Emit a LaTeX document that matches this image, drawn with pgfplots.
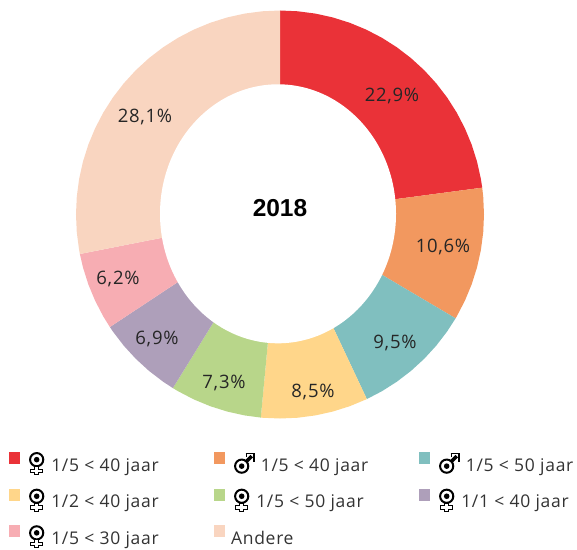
\documentclass[border=0pt]{standalone}
\usepackage{fontspec}
\setmainfont{Open Sans}
\newfontfamily\lf[LetterSpace=4]{Open Sans}
\newfontfamily\arialb{Liberation Sans}
\usepackage{pgfplots}
\usepgfplotslibrary{polar}
\pgfplotsset{compat=1.18}
\definecolor{c1}{HTML}{EA3238}
\definecolor{c2}{HTML}{F2985F}
\definecolor{c3}{HTML}{80BFBF}
\definecolor{c4}{HTML}{FFD68A}
\definecolor{c5}{HTML}{B8D68A}
\definecolor{c6}{HTML}{AE9FBA}
\definecolor{c7}{HTML}{F7ADB3}
\definecolor{c8}{HTML}{F9D5C0}
\newcommand\fem{\hspace{9pt}\begin{tikzpicture}[baseline=-10pt,x=1pt,y=1pt]
\draw[line width=2pt,black] (0,1.5) circle (6.6);
\fill[black] (0,1.5) circle (2.8);
\fill[black] (-2.8,-5.2) rectangle (2.8,-14);
\fill[black] (-6.4,-7.4) rectangle (6.4,-12);
\fill[white] (-1.2,-5.8) rectangle (1.2,-12.8);
\fill[white] (-5.2,-8.6) rectangle (5.2,-10.8);
\end{tikzpicture}\hspace{7pt}}
\newcommand\mal{\hspace{9pt}\begin{tikzpicture}[baseline=-8pt,x=1pt,y=1pt]
\draw[line width=2pt,black] (7,-3) circle (6.6);
\fill[black] (7,-3) circle (2.8);
\draw[line width=3.6pt,black] (11,1) -- (17,7);
\draw[line width=1.4pt,black] (11,9.5) -- (19.5,9.5) -- (19.5,1);
\draw[line width=1.4pt,black] (12,6) -- (12,9.5);
\end{tikzpicture}\hspace{6pt}}
\newcommand\lt[1]{\makebox[186pt][l]{\lf\fontsize{17.5pt}{18pt}\selectfont\color{black!80} #1}}
\begin{document}
\begin{tikzpicture}[x=1pt,y=1pt]
\path[use as bounding box] (0,0) rectangle (577,549);
\begin{polaraxis}[
  at={(280pt,334.5pt)}, anchor=center,
  scale only axis, width=408pt, height=408pt,
  xmin=0, xmax=360, ymin=0, ymax=204,
  hide axis, clip=false,
  legend columns=3,
  legend cell align=left,
  legend image code/.code={\fill[#1] (0pt,7pt) rectangle (11pt,19pt);},
  legend style={
    at={(axis description cs:-0.164,-0.0822)}, anchor=north west, draw=none, fill=none,
    inner sep=0pt, outer sep=0pt,
    row sep=16pt,
    nodes={inner sep=0pt, outer sep=0pt, anchor=base west},
    /tikz/every even column/.append style={column sep=8pt},
  },
]
\addplot[fill=c1,draw=none] coordinates {(90,204)(85,204)(80,204)(75,204)(70,204)(65,204)(60,204)(55,204)(50,204)(45,204)(40,204)(35,204)(30,204)(25,204)(20,204)(15,204)(10,204)(7.56,204)(7.56,100)(90,100)} -- cycle;
\addlegendentry{\lt{\fem 1/5 < 40 jaar}}
\addplot[fill=c2,draw=none] coordinates {(7.56,204)(5,204)(0,204)(-5,204)(-10,204)(-15,204)(-20,204)(-25,204)(-30,204)(-30.6,204)(-30.6,100)(7.56,100)} -- cycle;
\addlegendentry{\lt{\mal 1/5 < 40 jaar}}
\addplot[fill=c3,draw=none] coordinates {(-30.6,204)(-35,204)(-40,204)(-45,204)(-50,204)(-55,204)(-60,204)(-64.8,204)(-64.8,100)(-30.6,100)} -- cycle;
\addlegendentry{\lt{\mal 1/5 < 50 jaar}}
\addplot[fill=c4,draw=none] coordinates {(-64.8,204)(-70,204)(-75,204)(-80,204)(-85,204)(-90,204)(-95,204)(-95.4,204)(-95.4,100)(-64.8,100)} -- cycle;
\addlegendentry{\lt{\fem 1/2 < 40 jaar}}
\addplot[fill=c5,draw=none] coordinates {(-95.4,204)(-100,204)(-105,204)(-110,204)(-115,204)(-120,204)(-121.68,204)(-121.68,100)(-95.4,100)} -- cycle;
\addlegendentry{\lt{\fem 1/5 < 50 jaar}}
\addplot[fill=c6,draw=none] coordinates {(-121.68,204)(-125,204)(-130,204)(-135,204)(-140,204)(-145,204)(-146.52,204)(-146.52,100)(-121.68,100)} -- cycle;
\addlegendentry{\lt{\fem 1/1 < 40 jaar}}
\addplot[fill=c7,draw=none] coordinates {(-146.52,204)(-150,204)(-155,204)(-160,204)(-165,204)(-168.84,204)(-168.84,100)(-146.52,100)} -- cycle;
\addlegendentry{\lt{\fem 1/5 < 30 jaar}}
\addplot[fill=c8,draw=none] coordinates {(-168.84,204)(-170,204)(-175,204)(-180,204)(-185,204)(-190,204)(-195,204)(-200,204)(-205,204)(-210,204)(-215,204)(-220,204)(-225,204)(-230,204)(-235,204)(-240,204)(-245,204)(-250,204)(-255,204)(-260,204)(-265,204)(-270,204)(-270,100)(-168.84,100)} -- cycle;
\addlegendentry{\lt{\hspace{6pt}Andere}}
\end{polaraxis}
\fill[white] (278,335.2) ellipse [x radius=118, y radius=129.5];
\tikzset{lab/.style={font=\lf\fontsize{18.5pt}{20pt}\selectfont,text=black!85,inner sep=0pt}}
\node[lab] at (392,453.5) {22,9\%};
\node[lab] at (443,302.5) {10,6\%};
\node[lab] at (395,206.5) {9,5\%};
\node[lab] at (313,157.5) {8,5\%};
\node[lab] at (224,166.5) {7,3\%};
\node[lab] at (157,210.5) {6,9\%};
\node[lab] at (118,270.5) {6,2\%};
\node[lab] at (145,432.5) {28,1\%};
\node[font=\arialb\bfseries\fontsize{24.5pt}{26pt}\selectfont,inner sep=0pt] at (280,341) {2018};
\end{tikzpicture}
\end{document}
